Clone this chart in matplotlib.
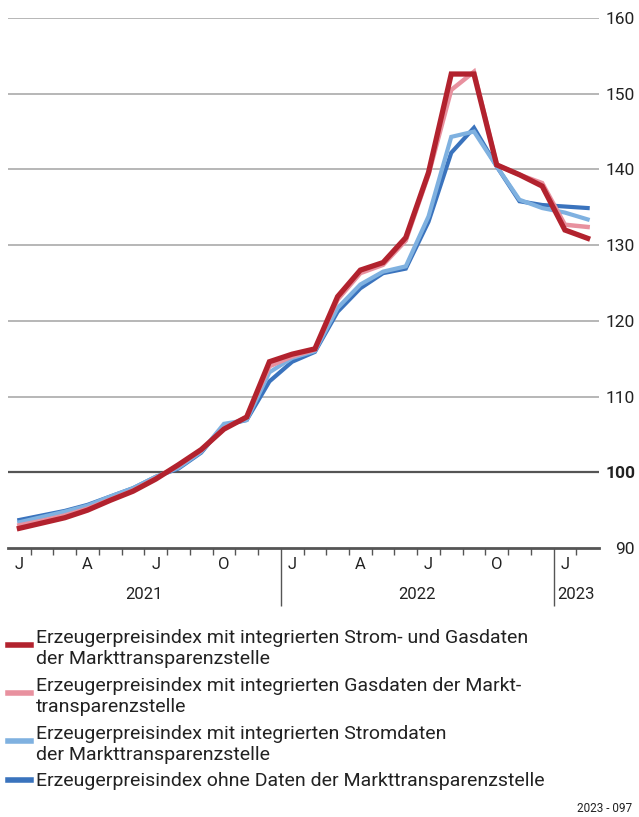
import numpy as np
import matplotlib.pyplot as plt
from matplotlib.lines import Line2D
import matplotlib.transforms as mtransforms

plt.rcParams['font.family'] = ['Roboto', 'DejaVu Sans']

# monthly index values, Jan 2021 - Feb 2023
strom_gas = [92.6, 93.3, 94.0, 95.0, 96.3, 97.5, 99.1, 101.0, 103.0, 105.7, 107.3, 114.6,
             115.6, 116.3, 123.2, 126.7, 127.7, 131.0, 139.6, 152.6, 152.6, 140.6, 139.3, 137.8,
             132.0, 130.9]
gas = [93.0, 93.6, 94.3, 95.2, 96.4, 97.6, 99.2, 100.9, 102.9, 105.8, 107.3, 114.0,
       115.3, 116.2, 122.8, 126.3, 127.4, 130.6, 139.3, 150.5, 152.9, 140.6, 139.3, 138.2,
       132.7, 132.4]
strom = [93.4, 94.1, 94.8, 95.6, 96.8, 97.9, 99.4, 100.6, 102.7, 106.4, 106.9, 113.2,
         115.1, 116.0, 121.7, 124.8, 126.5, 127.2, 133.8, 144.3, 145.0, 140.4, 136.0, 134.9,
         134.3, 133.4]
ohne = [93.7, 94.3, 94.9, 95.7, 96.8, 97.9, 99.4, 100.5, 102.6, 106.2, 106.9, 112.0,
        114.6, 115.9, 121.2, 124.3, 126.3, 126.9, 133.1, 142.2, 145.5, 140.4, 135.8, 135.3,
        135.1, 134.9]

month_labels = {0: 'J', 3: 'A', 6: 'J', 9: 'O', 12: 'J', 15: 'A', 18: 'J', 21: 'O', 24: 'J'}
years = ['2021', '2022', '2023']
year_centers = [5.5, 17.5, 24.5]
yticks = [90, 100, 110, 120, 130, 140, 150, 160]

labels = [
    'Erzeugerpreisindex mit integrierten Strom- und Gasdaten\nder Markttransparenzstelle',
    'Erzeugerpreisindex mit integrierten Gasdaten der Markt-\ntransparenzstelle',
    'Erzeugerpreisindex mit integrierten Stromdaten\nder Markttransparenzstelle',
    'Erzeugerpreisindex ohne Daten der Markttransparenzstelle',
]
colors = ['#B2222E', '#E8919F', '#7FB1E0', '#3A73BD']

x = np.arange(len(strom_gas))

fig = plt.figure(figsize=(6.39, 8.17), dpi=100)
ax = fig.add_axes([8 / 639, 1 - 548 / 817, 591 / 639, 530 / 817])

ax.plot(x, ohne, color=colors[3], lw=3.0, zorder=3, solid_joinstyle='miter')
ax.plot(x, strom, color=colors[2], lw=3.0, zorder=4, solid_joinstyle='miter')
ax.plot(x, gas, color=colors[1], lw=3.2, zorder=5, solid_joinstyle='miter')
ax.plot(x, strom_gas, color=colors[0], lw=3.8, zorder=6, solid_joinstyle='miter')

ax.set_xlim(-0.5, 25.5)
ax.set_ylim(90, 160)

for v in yticks[2:]:
    ax.axhline(v, color='#AAAAAA', lw=1.2, zorder=1)
ax.axhline(100, color='#555555', lw=1.6, zorder=2)

for s in ['top', 'left', 'right']:
    ax.spines[s].set_visible(False)
ax.spines['bottom'].set_color('#555555')
ax.spines['bottom'].set_linewidth(2)

ax.yaxis.tick_right()
ax.set_yticks(yticks)
ax.set_yticklabels([str(v) for v in yticks], fontsize=12.5, color='#222222')
for lab in ax.get_yticklabels():
    lab.set_horizontalalignment('right')
    if lab.get_text() == '100':
        lab.set_fontweight('bold')
ax.tick_params(axis='y', length=0, pad=26)

ax.set_xticks([11.5, 23.5])
ax.set_xticks([k - 0.5 for k in range(1, 26) if k not in (12, 24)], minor=True)
ax.set_xticklabels([])
ax.tick_params(axis='x', which='major', length=42, width=1, color='#555555')
ax.tick_params(axis='x', which='minor', length=5, width=1, color='#555555')

trans = mtransforms.blended_transform_factory(ax.transData, ax.transAxes)
for k, m in month_labels.items():
    ax.text(k, -0.032, m, transform=trans, ha='center', va='center',
            fontsize=12, color='#222222')
for xc, yr in zip(year_centers, years):
    ax.text(xc, -0.087, yr, transform=trans, ha='center', va='center',
            fontsize=12, color='#222222')

# legend
text_y = [637, 685, 733, 780]
swatch_y = [645, 693, 741, 780]
for lab, col, ty, sy in zip(labels, colors, text_y, swatch_y):
    fig.add_artist(Line2D([8 / 639, 31 / 639], [1 - sy / 817, 1 - sy / 817],
                          color=col, lw=4, transform=fig.transFigure))
    fig.text(36 / 639, 1 - (ty - 8) / 817, lab, ha='left', va='top',
             fontsize=14, color='#222222', linespacing=1.22)

fig.text(632 / 639, 1 - 808 / 817, '2023 - 097', ha='right', va='center',
         fontsize=8.5, color='#222222')

fig.savefig('out.png', dpi=100)
